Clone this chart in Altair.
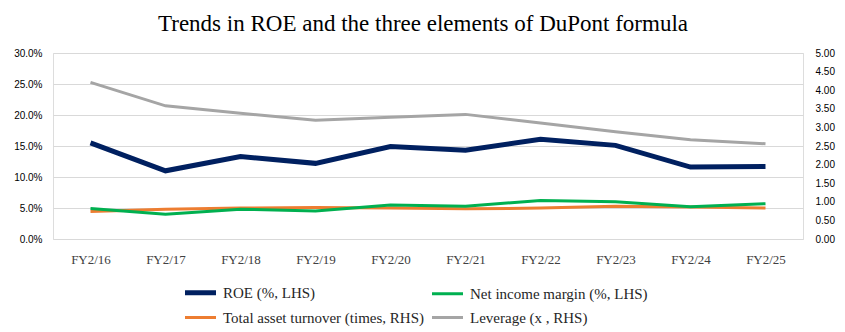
import altair as alt
import pandas as pd

years = ["FY2/16", "FY2/17", "FY2/18", "FY2/19", "FY2/20",
         "FY2/21", "FY2/22", "FY2/23", "FY2/24", "FY2/25"]
roe_pct = [15.5, 11.0, 13.3, 12.2, 14.9, 14.3, 16.1, 15.1, 11.6, 11.7]
nim_pct = [4.9, 4.0, 4.8, 4.5, 5.5, 5.3, 6.2, 6.0, 5.2, 5.7]
turnover = [0.74, 0.80, 0.83, 0.85, 0.83, 0.81, 0.83, 0.88, 0.86, 0.83]
leverage = [4.21, 3.58, 3.38, 3.19, 3.27, 3.35, 3.12, 2.88, 2.67, 2.56]

names = ["ROE (%, LHS)", "Net income margin (%, LHS)",
         "Total asset turnover (times, RHS)", "Leverage (x , RHS)"]
colors = ["#002060", "#00B050", "#ED7D31", "#A5A5A5"]

rows_left = []
for y, r, n in zip(years, roe_pct, nim_pct):
    rows_left.append({"year": y, "series": names[0], "value": r / 100})
    rows_left.append({"year": y, "series": names[1], "value": n / 100})
rows_right = []
for y, t, l in zip(years, turnover, leverage):
    rows_right.append({"year": y, "series": names[2], "value": t})
    rows_right.append({"year": y, "series": names[3], "value": l})
df_left = pd.DataFrame(rows_left)
df_right = pd.DataFrame(rows_right)

legend = alt.Legend(
    title=None, orient="none", legendX=140, legendY=232, columns=2,
    direction="horizontal",
    symbolType="stroke", symbolSize=961,
    symbolStrokeWidth={"expr": "datum.value === '" + names[0] + "' ? 5 : 3"},
    labelFont="Liberation Serif", labelFontSize=15, labelColor="#262626",
    labelOffset=15, columnPadding=2, rowPadding=7, labelLimit=400, padding=0,
)

x_enc = alt.X("year:N", sort=years,
              scale=alt.Scale(type="point", padding=0.5),
              axis=alt.Axis(title=None, domain=False, ticks=False, tickSize=0,
                            labelPadding=14, labelAngle=0, grid=False,
                            labelFont="Liberation Serif", labelFontSize=13,
                            labelColor="#404040"))
color_enc = alt.Color("series:N", scale=alt.Scale(domain=names, range=colors),
                      legend=legend, sort=names)
sw_enc = alt.condition(alt.datum.series == names[0], alt.value(5), alt.value(3))

left = alt.Chart(df_left).mark_line().encode(
    x=x_enc,
    y=alt.Y("value:Q", scale=alt.Scale(domain=[0, 0.30]),
            axis=alt.Axis(title=None, orient="left", format=".1%",
                          values=[0, 0.05, 0.10, 0.15, 0.20, 0.25, 0.30],
                          domain=False, ticks=False, tickSize=0, labelPadding=11,
                          grid=True, gridColor="#D9D9D9", gridWidth=1)),
    color=color_enc,
    strokeWidth=sw_enc,
)

right = alt.Chart(df_right).mark_line(strokeWidth=3).encode(
    x=x_enc,
    y=alt.Y("value:Q", scale=alt.Scale(domain=[0, 5]),
            axis=alt.Axis(title=None, orient="right", format=".2f",
                          values=[0, 0.5, 1, 1.5, 2, 2.5, 3, 3.5, 4, 4.5, 5],
                          domain=False, ticks=False, tickSize=0, labelPadding=12,
                          grid=False)),
    color=color_enc,
)

chart = alt.layer(right, left).resolve_scale(y="independent").properties(
    width=750, height=186,
    title=alt.TitleParams("Trends in ROE and the three elements of DuPont formula",
                          font="Liberation Serif", fontSize=23, fontWeight="normal",
                          color="#000000", anchor="middle", offset=12, dx=-5),
    autosize=alt.AutoSizeParams(type="none"),
    padding={"left": 53, "top": 53, "right": 42, "bottom": 93},
).configure_view(stroke=None).configure_axis(
    labelFont="Liberation Sans", labelFontSize=11, labelColor="#595959"
).configure(background="white")

chart.save("out.html", embed_options={"renderer": "svg", "actions": False})
